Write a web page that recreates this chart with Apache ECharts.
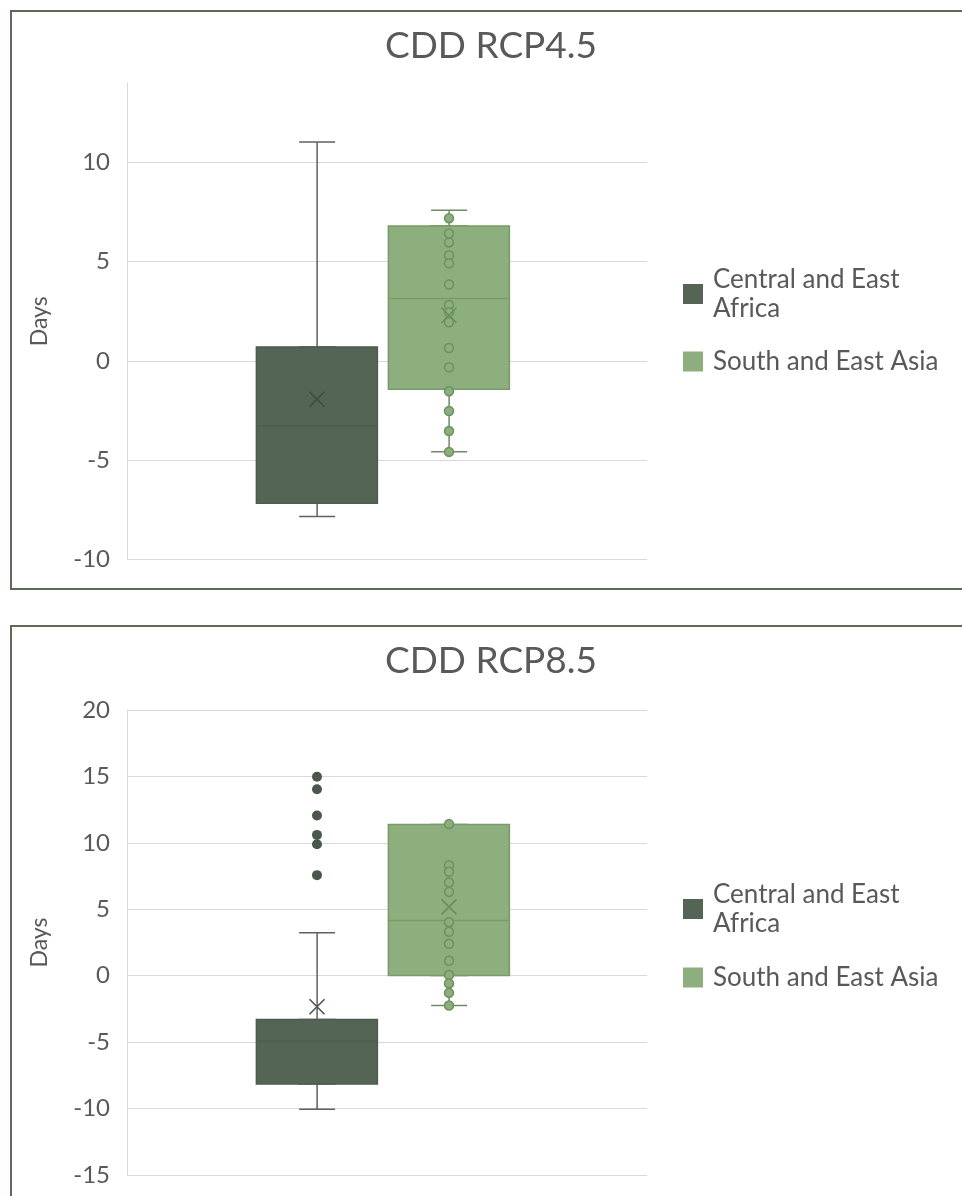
<!DOCTYPE html>
<html>
<head>
<meta charset="utf-8">
<script src="https://cdn.jsdelivr.net/npm/echarts@6/dist/echarts.min.js"></script>
<style>
html,body{margin:0;padding:0;background:#fff;}
#chart{width:962px;height:1196px;}
</style>
</head>
<body>
<div id="chart"></div>
<script>
// ---- data ----
const categories = ['CDD'];
const seriesNames = ['Central and East Africa', 'South and East Asia'];
const chartTitles = ['CDD RCP4.5', 'CDD RCP8.5'];
const axisName = 'Days';

// RCP4.5: [min, Q1, median, Q3, max]
const boxAfrica45 = [-7.83, -7.17, -3.27, 0.70, 11.03];
const meanAfrica45 = -1.93;
const boxAsia45 = [-4.57, -1.43, 3.15, 6.80, 7.59];
const meanAsia45 = 2.3;
const pointsAsia45 = [7.19, 6.42, 5.97, 5.32, 4.92, 3.85, 2.82, 2.45, 1.95, 0.65, -0.32, -1.53, -2.52, -3.53, -4.58];

// RCP8.5
const boxAfrica85 = [-10.05, -8.15, -4.92, -3.29, 3.23];
const meanAfrica85 = -2.34;
const outliersAfrica85 = [14.97, 14.04, 12.06, 10.6, 9.9, 7.57];
const boxAsia85 = [-2.24, 0.02, 4.16, 11.38, 11.38];
const meanAsia85 = 5.18;
const pointsAsia85 = [11.41, 8.32, 7.82, 7.02, 6.31, 4.03, 3.30, 2.40, 1.12, 0.05, -0.58, -1.29, -2.24];

// axis ranges
const yRange45 = [-10, 14];
const yRange85 = [-15, 20];
const yStep = 5;

// ---- styles ----
const FONT = 'Lato';
const TXT = '#595959';
const GRIDC = '#d9d9d9';
const DARK = '#556555';
const DARK_LINE = '#4e5c4e';
const DARK_WHISKER = '#5e625d';
const GREEN = '#8caf7d';
const GREEN_LINE = '#779b6a';
const GREEN_WHISKER = '#6f8a66';
const X_SYMBOL = 'path://M0,0L10,10M10,0L0,10';

const chart = echarts.init(document.getElementById('chart'));

function panel(topPx, heightPx) {
  return [
    {left: 127, top: topPx, width: 520, height: heightPx},
    {left: 316, top: topPx, width: 2, height: heightPx},
    {left: 448, top: topPx, width: 2, height: heightPx}
  ];
}

const grids = [].concat(panel(83, 476.5), panel(710, 465));

const xAxes = grids.map((g, i) => ({type: 'category', gridIndex: i, data: categories, show: false}));

function mainY(gi, range, hideMax) {
  return {
    type: 'value', gridIndex: gi, min: range[0], max: range[1], interval: yStep,
    name: axisName, nameLocation: 'middle', nameGap: 76,
    nameTextStyle: {fontFamily: FONT, fontSize: 23, color: TXT},
    axisLine: {show: true, lineStyle: {color: GRIDC, width: 1}},
    axisTick: {show: false},
    axisLabel: {fontFamily: FONT, fontSize: 24, color: TXT, margin: 17, showMaxLabel: !hideMax},
    splitLine: {show: true, showMaxLine: !hideMax, lineStyle: {color: GRIDC, width: 1}}
  };
}
function hiddenY(gi, range) {
  return {type: 'value', gridIndex: gi, min: range[0], max: range[1], interval: yStep, show: false, splitLine: {show: false}};
}
const yAxes = [
  mainY(0, yRange45, true), hiddenY(1, yRange45), hiddenY(2, yRange45),
  mainY(3, yRange85, false), hiddenY(4, yRange85), hiddenY(5, yRange85)
];

// whiskers with short caps (narrow boxplot underneath)
function whiskerSeries(axisIdx, stats, line) {
  return {
    type: 'boxplot', xAxisIndex: axisIdx, yAxisIndex: axisIdx,
    data: [stats], boxWidth: [36, 36],
    itemStyle: {color: 'transparent', borderColor: line, borderWidth: 1.5},
    emphasis: {disabled: true}, z: 1
  };
}
// the box itself (Q1..Q3)
function boxSeries(name, axisIdx, stats, fill, line) {
  return {
    type: 'boxplot', name: name, xAxisIndex: axisIdx, yAxisIndex: axisIdx,
    data: [[stats[1], stats[1], stats[2], stats[3], stats[3]]], boxWidth: [121, 121],
    itemStyle: {color: fill, borderColor: line, borderWidth: 1.5},
    emphasis: {disabled: true}, z: 2
  };
}
function pointSeries(axisIdx, vals, size, fill, line, bw) {
  return {
    type: 'scatter', xAxisIndex: axisIdx, yAxisIndex: axisIdx, clip: false,
    data: vals.map(v => [0, v]), symbol: 'circle', symbolSize: size,
    itemStyle: {color: fill, borderColor: line, borderWidth: bw, opacity: 1},
    emphasis: {disabled: true}, z: 3
  };
}
function meanSeries(axisIdx, v, line) {
  return {
    type: 'scatter', xAxisIndex: axisIdx, yAxisIndex: axisIdx, clip: false,
    data: [[0, v]], symbol: X_SYMBOL, symbolSize: 15,
    itemStyle: {color: 'transparent', borderColor: line, borderWidth: 1.6, opacity: 1},
    emphasis: {disabled: true}, z: 4
  };
}

const series = [
  whiskerSeries(1, boxAfrica45, DARK_WHISKER),
  whiskerSeries(2, boxAsia45, GREEN_WHISKER),
  boxSeries(seriesNames[0], 1, boxAfrica45, DARK, DARK_LINE),
  boxSeries(seriesNames[1], 2, boxAsia45, GREEN, GREEN_LINE),
  pointSeries(2, pointsAsia45, 9, GREEN, '#6d925f', 1.5),
  meanSeries(1, meanAfrica45, '#3e4c3e'),
  meanSeries(2, meanAsia45, '#6a8e5d'),
  whiskerSeries(4, boxAfrica85, DARK_WHISKER),
  whiskerSeries(5, boxAsia85, GREEN_WHISKER),
  boxSeries(seriesNames[0], 4, boxAfrica85, DARK, DARK_LINE),
  boxSeries(seriesNames[1], 5, boxAsia85, GREEN, GREEN_LINE),
  pointSeries(4, outliersAfrica85, 10, '#4b574b', '#4b574b', 0),
  pointSeries(5, pointsAsia85, 9, GREEN, '#6d925f', 1.5),
  meanSeries(4, meanAfrica85, '#4b5a4b'),
  meanSeries(5, meanAsia85, '#6a8e5d')
];

function legendFor(name, color, top) {
  return {
    orient: 'vertical', left: 683, top: top, padding: 0,
    itemWidth: 20, itemHeight: 20, icon: 'rect', selectedMode: false,
    data: [{name: name, itemStyle: {color: color, borderWidth: 0}}],
    formatter: n => n === seriesNames[0] ? 'Central and East\nAfrica' : n,
    textStyle: {fontFamily: FONT, fontSize: 26, color: TXT, lineHeight: 29, padding: [0, 0, 0, 5]}
  };
}

const option = {
  animation: false,
  backgroundColor: '#ffffff',
  title: [
    {text: chartTitles[0], left: 491, textAlign: 'center', top: 28, padding: 0,
     textStyle: {fontFamily: FONT, fontSize: 37, fontWeight: 'normal', color: TXT}},
    {text: chartTitles[1], left: 491, textAlign: 'center', top: 643, padding: 0,
     textStyle: {fontFamily: FONT, fontSize: 37, fontWeight: 'normal', color: TXT}}
  ],
  legend: [
    legendFor(seriesNames[0], DARK, 265),
    legendFor(seriesNames[1], GREEN, 347),
    legendFor(seriesNames[0], DARK, 880),
    legendFor(seriesNames[1], GREEN, 963)
  ],
  grid: grids,
  xAxis: xAxes,
  yAxis: yAxes,
  series: series,
  graphic: [
    {type: 'rect', silent: true, z: 100, shape: {x: 11, y: 11, width: 1000, height: 578},
     style: {fill: 'none', stroke: '#5b6b58', lineWidth: 2}},
    {type: 'rect', silent: true, z: 100, shape: {x: 11, y: 626, width: 1000, height: 700},
     style: {fill: 'none', stroke: '#5b6b58', lineWidth: 2}}
  ]
};
chart.setOption(option);
</script>
</body>
</html>
